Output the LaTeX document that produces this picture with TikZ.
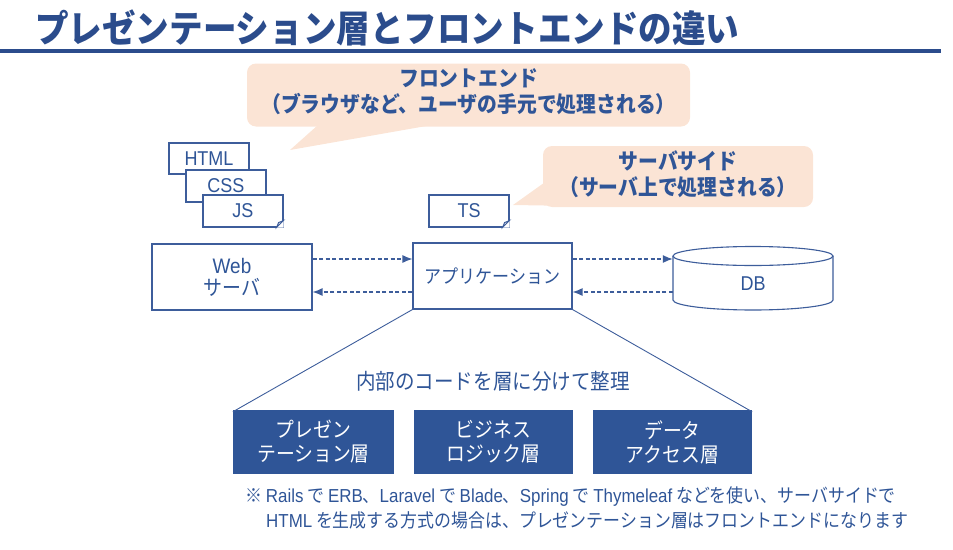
\documentclass[tikz,border=0pt]{standalone}
\usepackage{fontspec}
\setmainfont{Noto Sans CJK JP}[FakeStretch=0.9]
\newfontfamily\latin{Liberation Sans}[FakeStretch=0.9]
\newcommand\en[1]{{\latin #1}}
\usetikzlibrary{arrows.meta}
\definecolor{navy}{HTML}{2F5597}
\definecolor{ttl}{HTML}{2B4C8C}
\definecolor{edge}{HTML}{3D5D9B}
\definecolor{peach}{HTML}{FBE4D5}
% folded lower-right corner of a file icon
\newcommand\docfold[1]{%
  \fill[white] (#1.south east) -- ++(-7,0) -- ++(7,-7) -- cycle;
  \draw[edge, line width=0.9pt, fill=edge!15] (#1.south east) ++(-7,0) -- ++(7,-7) -- ++(-5,2) -- cycle;}
\begin{document}
\begin{tikzpicture}[x=1pt, y=-1pt,
  titletext/.style={text=ttl, font=\fontsize{37.3}{44}\selectfont\bfseries, inner sep=0},
  bubble/.style={fill=peach, rounded corners=9pt, text=navy, align=center,
    font=\fontsize{22}{26}\selectfont\bfseries, inner sep=0},
  docbox/.style={draw=edge, line width=1.1pt, fill=white, text=navy, inner sep=0,
    font=\fontsize{20}{22}\selectfont\latin},
  block/.style={draw=edge, line width=1.1pt, fill=white, text=navy, align=center, inner sep=0,
    minimum height=66, font=\fontsize{18.9}{23}\selectfont},
  layer/.style={fill=navy, text=white, align=center, inner sep=0, minimum height=64,
    font=\fontsize{20.9}{24}\selectfont},
  flow/.style={draw=edge, line width=1.2pt, dash pattern=on 4pt off 2.5pt,
    -{Latex[length=10pt,width=8pt]}},
  note/.style={text=navy, inner sep=0, font=\fontsize{18.8}{22}\selectfont}]
\useasboundingbox (0,0) rectangle (953,549);

% heading and rule
\node[titletext, anchor=west] (title) at (35,28) {プレゼンテーション層とフロントエンドの違い};
\draw[ttl, line width=3.5pt] (0,51) -- (941,51);

% front-end callout
\fill[peach] (318,125) -- (290,150) -- (432,125) -- cycle;
\node[bubble, minimum width=443, minimum height=63] (fe) at (468.5,95) {};
\node[bubble, fill=none] (fel) at (468.5,92)
  {フロントエンド\\（ブラウザなど、ユーザの手元で処理される）};

% server-side callout
\fill[peach] (548,180) -- (513,205) -- (575,206) -- cycle;
\node[bubble, minimum width=270, minimum height=61] (ss) at (678,176.5) {};
\node[bubble, fill=none] (ssl) at (678,174)
  {サーバサイド\\（サーバ上で処理される）};

% source files
\node[docbox, minimum width=80, minimum height=31] (html) at (209,158.5) {HTML};
\node[docbox, minimum width=80, minimum height=32] (css) at (226,186) {CSS};
\node[docbox, minimum width=80, minimum height=32] (js) at (243,211) {JS};
\docfold{js}
\node[docbox, minimum width=80, minimum height=32] (ts) at (469,211) {TS};
\docfold{ts}

% servers
\node[block, minimum width=160, font=\fontsize{21}{22}\selectfont] (web) at (232,277) {\en{Web}\\サーバ};
\node[block, minimum width=159] (app) at (492.5,276) {アプリケーション};

% database cylinder
\node[minimum width=160, minimum height=64, inner sep=0] (db) at (753,278) {};
\draw[edge, line width=1.1pt, fill=white]
  (673,256) -- (673,300) arc[start angle=180, end angle=0, x radius=80, y radius=10]
  -- (833,256);
\draw[edge, line width=1.1pt, fill=white] (753,256) ellipse [x radius=80, y radius=9.5];
\node[text=navy, inner sep=0, font=\fontsize{20}{22}\selectfont\latin] (dbl) at (753,284) {DB};

% request / response flows
\draw[flow] (web.east |- 0,259) -- (app.west |- 0,259);
\draw[flow] (app.west |- 0,292) -- (web.east |- 0,292);
\draw[flow] (app.east |- 0,259) -- (db.west |- 0,259);
\draw[flow] (db.west |- 0,292) -- (app.east |- 0,292);

% layers inside the application
\node[layer, minimum width=161] (pres) at (313.5,442) {プレゼン\\テーション層};
\node[layer, minimum width=159] (biz) at (493.5,442) {ビジネス\\ロジック層};
\node[layer, minimum width=159] (data) at (672.5,442) {データ\\アクセス層};
\draw[edge, line width=0.9pt] (app.south west) -- ([yshift=-2]pres.north west);
\draw[edge, line width=0.9pt] (app.south east) -- ([yshift=-2]data.north east);
\node[text=navy, inner sep=0, font=\fontsize{21.7}{25}\selectfont] (inner) at (493,381)
  {内部のコードを層に分けて整理};

% footnote
\node[note, anchor=west] (foot1) at (245,497)
  {※ \en{Rails} で \en{ERB}、\en{Laravel} で \en{Blade}、\en{Spring} で \en{Thymeleaf} などを使い、サーバサイドで};
\node[note, anchor=west] (foot2) at (266,520)
  {\en{HTML} を生成する方式の場合は、プレゼンテーション層はフロントエンドになります};
\end{tikzpicture}
\end{document}
